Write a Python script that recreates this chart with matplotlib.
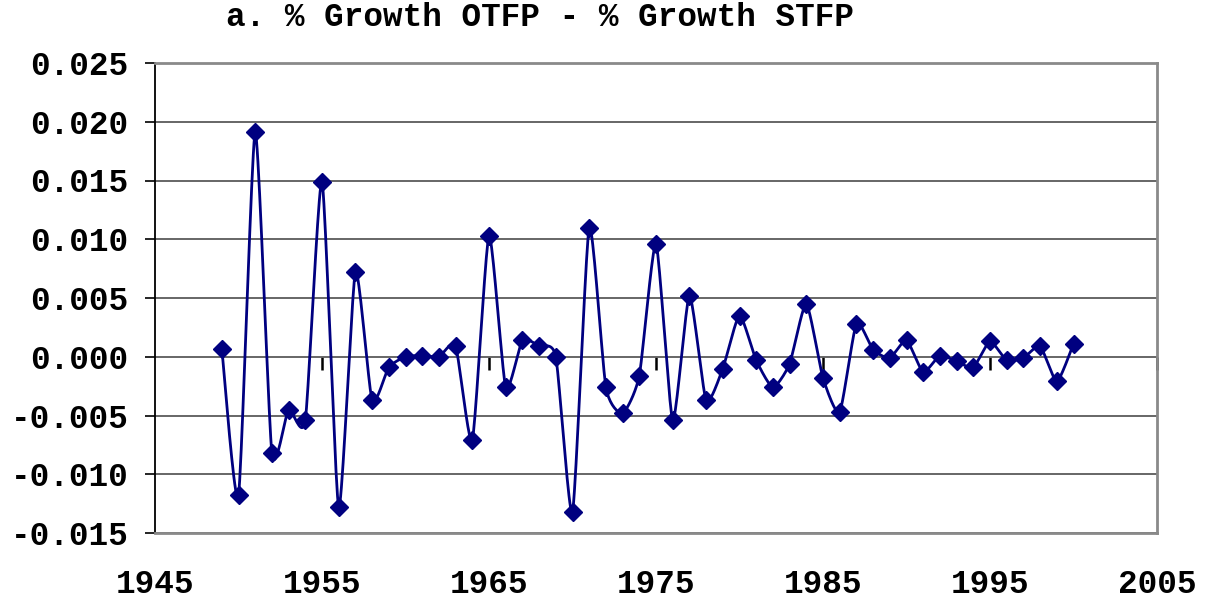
import matplotlib
matplotlib.use("Agg")
import matplotlib.pyplot as plt
import numpy as np

# data
years = list(range(1949, 2001))
diff = [0.0007, -0.0118, 0.0191, -0.0082, -0.0045, -0.0054, 0.0149, -0.0128,
        0.0072, -0.0037, -0.0009, 0.0000, 0.0001, 0.0000, 0.0009, -0.0071,
        0.0103, -0.0026, 0.0014, 0.0009, 0.0000, -0.0132, 0.0110, -0.0026,
        -0.0048, -0.0016, 0.0096, -0.0054, 0.0052, -0.0037, -0.0010, 0.0035,
        -0.0003, -0.0026, -0.0006, 0.0045, -0.0018, -0.0047, 0.0028, 0.0006,
        -0.0001, 0.0014, -0.0013, 0.0001, -0.0004, -0.0009, 0.0013, -0.0003,
        -0.0001, 0.0009, -0.0021, 0.0011]
xticks = [1945, 1955, 1965, 1975, 1985, 1995, 2005]
yticks = [-0.015, -0.010, -0.005, 0.000, 0.005, 0.010, 0.015, 0.020, 0.025]

FONT = "Liberation Mono"
NAVY = "#000080"


def smooth(x, y, n=20, k=0.6):
    "cardinal curve through the points, like excel's smoothed line"
    x = np.asarray(x, float)
    y = np.asarray(y, float)
    px = np.concatenate([[x[0]], x, [x[-1]]])
    py = np.concatenate([[y[0]], y, [y[-1]]])
    t = np.linspace(0, 1, n, endpoint=False)
    h00 = 2 * t**3 - 3 * t**2 + 1
    h10 = t**3 - 2 * t**2 + t
    h01 = -2 * t**3 + 3 * t**2
    h11 = t**3 - t**2
    xs, ys = [], []
    for i in range(1, len(px) - 2):
        for p, out in ((px, xs), (py, ys)):
            m1 = k * (p[i + 1] - p[i - 1]) / 2
            m2 = k * (p[i + 2] - p[i]) / 2
            out.append(h00 * p[i] + h10 * m1 + h01 * p[i + 1] + h11 * m2)
    xs.append([x[-1]])
    ys.append([y[-1]])
    return np.concatenate(xs), np.concatenate(ys)


W, H = 1207, 601
fig = plt.figure(figsize=(W / 100, H / 100), dpi=100)
ax = fig.add_axes([155 / W, 1 - 533 / H, (1157 - 155) / W, (533 - 63) / H])

for v in yticks:
    ax.axhline(v, color="#5a5a5a", lw=1.3, zorder=1)

sx, sy = smooth(years, diff)
ax.plot(sx, sy, color=NAVY, lw=2.0, zorder=3)
ax.plot(years, diff, 'D', color=NAVY, ms=9, zorder=4)

ax.set_xlim(1945, 2005)
ax.set_ylim(-0.015, 0.025)
ax.set_xticks(xticks)
ax.set_xticklabels([str(v) for v in xticks])
ax.set_yticks(yticks)
ax.set_yticklabels(["%.3f" % v for v in yticks])

ax.tick_params(axis='x', length=0, pad=26)
ax.tick_params(axis='y', length=7, width=1.2, pad=12, color='black')
for lab in ax.get_xticklabels() + ax.get_yticklabels():
    lab.set_fontfamily(FONT)
    lab.set_fontweight('bold')
    lab.set_fontsize(23.5)

ax.spines['left'].set_color('black')
ax.spines['left'].set_linewidth(1.3)
for s in ('right', 'bottom', 'top'):
    ax.spines[s].set_color('#8a8a8a')
    ax.spines[s].set_linewidth(2)

# category axis crossing at zero: only the small tick marks
sec = ax.secondary_xaxis(0.015 / 0.04)
sec.set_xticks(xticks[1:])
sec.tick_params(length=9, width=1.8, color='black', labelbottom=False)
sec.spines['bottom'].set_visible(False)

fig.text(540 / W, 1 - 18 / H, "a. % Growth OTFP - % Growth STFP",
         ha='center', va='center', fontfamily=FONT, fontweight='bold',
         fontsize=23.5)

fig.savefig("out.png", dpi=100)
